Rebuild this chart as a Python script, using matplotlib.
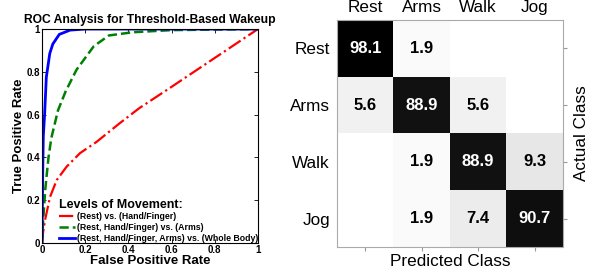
import numpy as np
import matplotlib
matplotlib.use('Agg')
import matplotlib.pyplot as plt

plt.rcParams['font.family'] = ['Liberation Sans', 'DejaVu Sans']

# curvas ROC (leidas a ojo de la figura)
red_fpr = [0, 0.005, 0.014, 0.037, 0.068, 0.114, 0.176, 0.253, 0.36, 0.45, 0.6, 0.8, 1]
red_tpr = [0, 0.05, 0.107, 0.215, 0.294, 0.357, 0.42, 0.473, 0.56, 0.63, 0.73, 0.865, 1]
green_fpr = [0, 0.005, 0.015, 0.03, 0.043, 0.074, 0.11, 0.16, 0.24, 0.31, 0.42, 0.6, 1]
green_tpr = [0, 0.1, 0.25, 0.4, 0.49, 0.62, 0.71, 0.81, 0.92, 0.97, 0.985, 0.995, 1]
blue_fpr = [0, 0.003, 0.006, 0.012, 0.02, 0.036, 0.05, 0.08, 0.13, 0.2, 1]
blue_tpr = [0, 0.3, 0.5, 0.6, 0.775, 0.886, 0.93, 0.975, 0.995, 1, 1]
legend_labels = ['(Rest) vs. (Hand/Finger)',
                 '(Rest, Hand/Finger) vs. (Arms)',
                 '(Rest, Hand/Finger, Arms) vs. (Whole Body)']

# matriz de confusion (%)
classes = ['Rest', 'Arms', 'Walk', 'Jog']
conf = np.array([[98.1, 1.9, 0, 0],
                 [5.6, 88.9, 5.6, 0],
                 [0, 1.9, 88.9, 9.3],
                 [0, 1.9, 7.4, 90.7]])

fig = plt.figure(figsize=(5.9, 2.74), dpi=100)

# --- ROC ---
ax = fig.add_axes([0.0712, 0.113, 0.366, 0.781])
ax.plot(red_fpr, red_tpr, color='red', ls='-.', lw=1.6, label=legend_labels[0])
ax.plot(green_fpr, green_tpr, color='#008000', ls='--', lw=1.8, label=legend_labels[1])
ax.plot(blue_fpr, blue_tpr, color='blue', ls='-', lw=2, label=legend_labels[2])
ax.set_xlim(0, 1)
ax.set_ylim(0, 1)
ticks = [0, 0.2, 0.4, 0.6, 0.8, 1]
ax.set_xticks(ticks)
ax.set_yticks(ticks)
ax.set_xticklabels(['0', '0.2', '0.4', '0.6', '0.8', '1'], fontweight='bold', fontsize=7)
ax.set_yticklabels(['0', '0.2', '0.4', '0.6', '0.8', '1'], fontweight='bold', fontsize=7)
ax.tick_params(direction='in', top=True, right=True, length=3, width=0.6, pad=1.5)
for s in ax.spines.values():
    s.set_linewidth(0.8)
ax.set_title('ROC Analysis for Threshold-Based Wakeup', fontweight='bold', fontsize=8.7, pad=4)
ax.set_xlabel('False Positive Rate', fontweight='bold', fontsize=9.5, labelpad=0)
ax.set_ylabel('True Positive Rate', fontweight='bold', fontsize=9.5, labelpad=1)
leg = ax.legend(loc='lower left', bbox_to_anchor=(0.06, -0.02), frameon=False,
                title='Levels of Movement:', alignment='left', handlelength=1.8,
                handletextpad=0.2, labelspacing=0.2, borderaxespad=0.1,
                prop={'weight': 'bold', 'size': 6.3})
leg.get_title().set_fontweight('bold')
leg.get_title().set_fontsize(9)

# --- matriz de confusion ---
ax2 = fig.add_axes([0.571, 0.0985, 0.383, 0.828])
ax2.imshow(conf, cmap='gray_r', vmin=0, vmax=96, aspect='auto')
for i in range(4):
    for j in range(4):
        v = conf[i, j]
        if v > 0:
            ax2.text(j, i, '%.1f' % v, ha='center', va='center', fontsize=12,
                     fontweight='bold', color='white' if v > 50 else 'black')
ax2.set_xticks(range(4))
ax2.set_yticks(range(4))
ax2.set_xticklabels(classes, fontsize=12.3)
ax2.set_yticklabels(classes, fontsize=12.3)
ax2.tick_params(axis='x', bottom=True, top=False, labelbottom=False, labeltop=True,
                length=3, color='#999999', pad=1)
ax2.tick_params(axis='y', left=False, right=True, labelleft=True, labelright=False,
                length=3, color='#999999', pad=2)
for s in ax2.spines.values():
    s.set_color('#aaaaaa')
ax2.set_xlabel('Predicted Class', fontsize=12.3, labelpad=2)
ax2.yaxis.set_label_position('right')
ax2.set_ylabel('Actual Class', fontsize=12.3, labelpad=5)

fig.savefig('out.png', dpi=100)
